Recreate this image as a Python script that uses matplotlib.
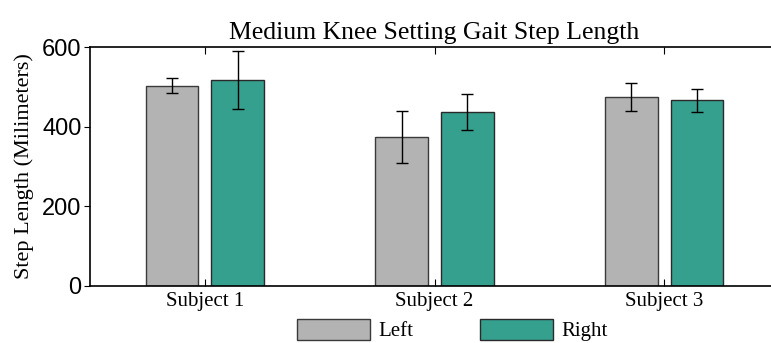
import numpy as np
import matplotlib.pyplot as plt

subjects = ["Subject 1", "Subject 2", "Subject 3"]
left_mean = [503, 374, 474]
left_err = [18, 66, 35]
right_mean = [517, 437, 466]
right_err = [72, 45, 29]

serif = "Liberation Serif"
sans = "Liberation Sans"

fig = plt.figure(figsize=(7.71, 3.43), dpi=100)
# right spine sits just past the image edge in the original
ax = fig.add_axes([90 / 771, 57 / 343, 689 / 771, 239 / 343])

x = np.arange(len(subjects))
off = 0.143
w = 0.23
ax.bar(x - off, left_mean, w, yerr=left_err, color="#b3b3b3", edgecolor="#3a3a3a",
       linewidth=1, capsize=4, error_kw=dict(ecolor="black", elinewidth=1, capthick=1),
       label="Left")
ax.bar(x + off, right_mean, w, yerr=right_err, color="#36a08f", edgecolor="#2a2a2a",
       linewidth=1, capsize=4, error_kw=dict(ecolor="black", elinewidth=1, capthick=1),
       label="Right")

ax.set_xlim(-0.5, 2.5)
ax.set_ylim(0, 600)
ax.set_yticks([0, 200, 400, 600])
ax.set_xticks(x)
ax.set_xticklabels(subjects, fontfamily=serif, fontsize=15)
for t in ax.get_yticklabels():
    t.set_fontfamily(sans)
    t.set_fontsize(17)
ax.tick_params(axis="x", direction="in", top=True, length=5, pad=4)
ax.tick_params(axis="y", direction="out", length=4, pad=2)
for s in ax.spines.values():
    s.set_linewidth(1.2)

ax.set_ylabel("Step Length (Milimeters)", fontfamily=serif, fontsize=16, labelpad=6)
ax.set_title("Medium Knee Setting Gait Step Length", fontfamily=serif, fontsize=18.5, pad=6)

fig.legend(loc="center", bbox_to_anchor=(452 / 771, 1 - 330 / 343), ncol=2, frameon=False,
           prop=dict(family=serif, size=15), handlelength=3.5, handleheight=1.2,
           columnspacing=3.2, handletextpad=0.4)

fig.savefig("out.png", dpi=100)
